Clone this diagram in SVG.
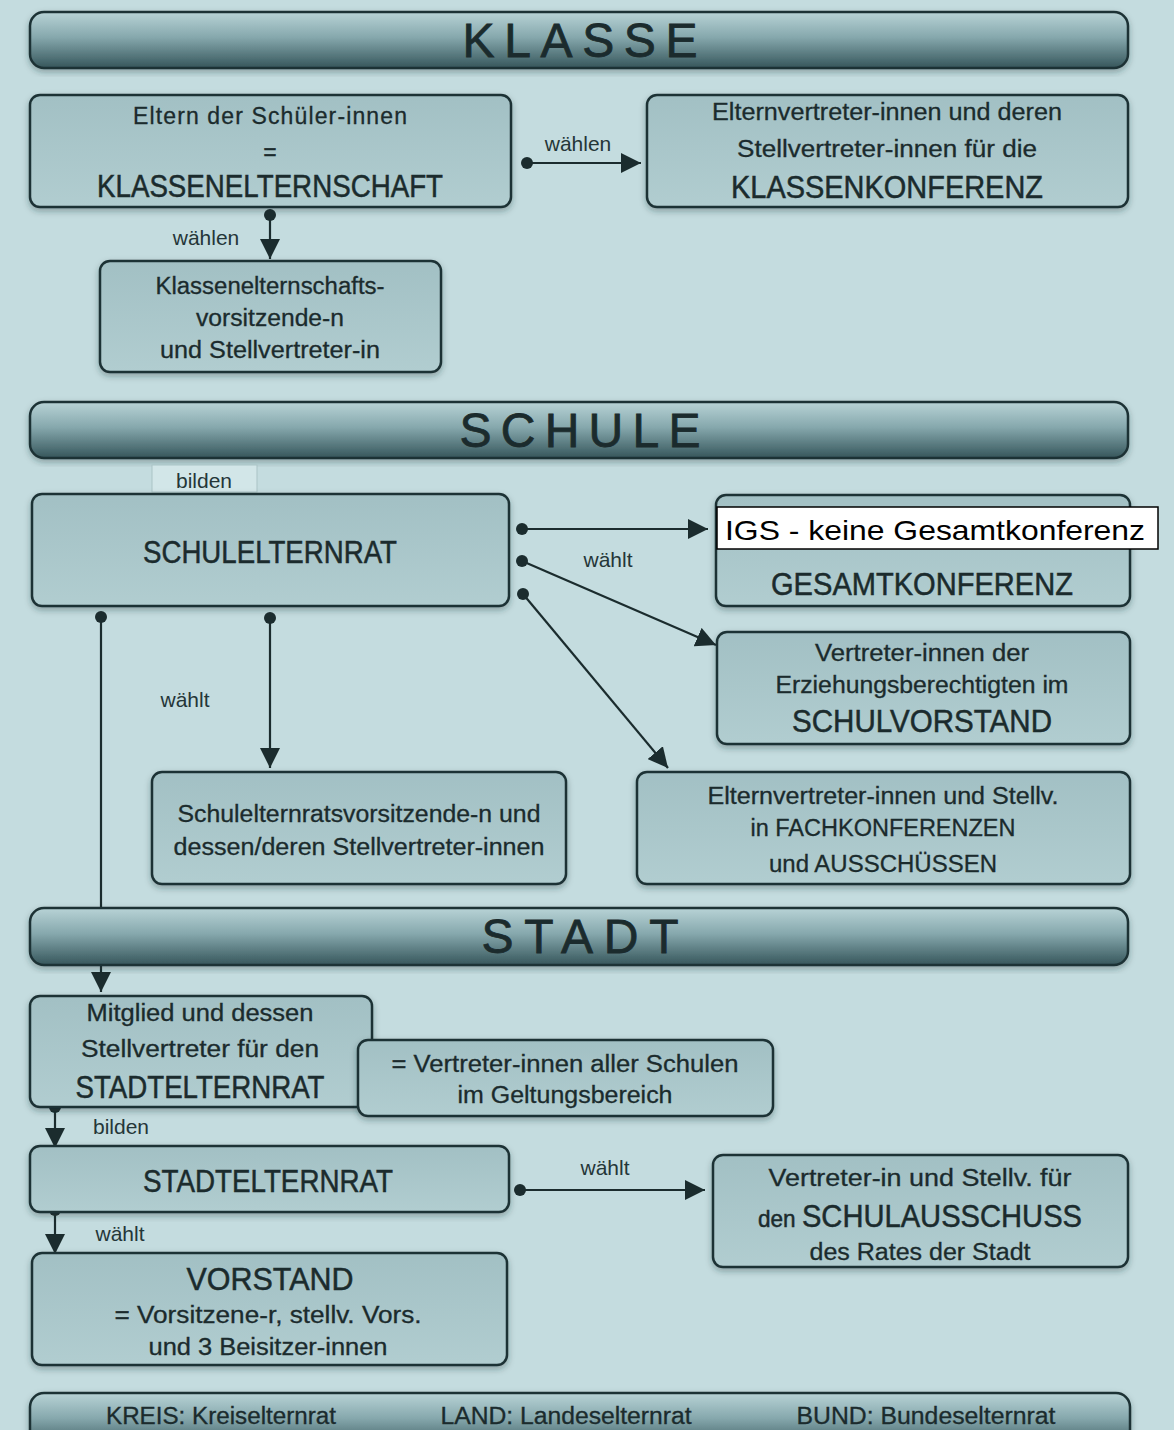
<svg xmlns="http://www.w3.org/2000/svg" width="1174" height="1430" viewBox="0 0 1174 1430">
<defs>
<linearGradient id="hdr" x1="0" y1="0" x2="0" y2="1">
<stop offset="0" stop-color="#b8d3d6"/>
<stop offset="0.45" stop-color="#86a8ad"/>
<stop offset="1" stop-color="#36565b"/>
</linearGradient>
<linearGradient id="box" x1="0" y1="0" x2="0" y2="1">
<stop offset="0" stop-color="#a2c0c4"/>
<stop offset="1" stop-color="#b1cdd0"/>
</linearGradient>
<filter id="sh" x="-5%" y="-10%" width="110%" height="125%">
<feDropShadow dx="0" dy="3" stdDeviation="3" flood-color="#1c3033" flood-opacity="0.35"/>
</filter>
<marker id="arr" viewBox="0 0 10 10" refX="10" refY="5" markerWidth="20" markerHeight="20" markerUnits="userSpaceOnUse" orient="auto">
<path d="M0,0 L10,5 L0,10 z" fill="#1b2c2e"/>
</marker>
<marker id="dot" viewBox="0 0 10 10" refX="5" refY="5" markerWidth="12" markerHeight="12" markerUnits="userSpaceOnUse">
<circle cx="5" cy="5" r="5" fill="#1b2c2e"/>
</marker>
</defs>
<style>
.bg{fill:#c4dcdf}
.hbar{fill:url(#hdr);stroke:#1e3235;stroke-width:2.5;filter:url(#sh)}
.nb{fill:url(#box);stroke:#1e3235;stroke-width:2.5;filter:url(#sh)}
text{font-family:"Liberation Sans","DejaVu Sans",sans-serif;fill:#1b2b2d;text-anchor:middle}
.ht{font-size:48px;letter-spacing:22px;stroke:#1b2b2d;stroke-width:0.8}
.t{font-size:23px;stroke:#1b2b2d;stroke-width:0.3}
.b{font-size:31px;stroke:#1b2b2d;stroke-width:0.5}
.lbl{font-size:21px;fill:#243638}
.c{stroke:#1b2c2e;stroke-width:2.2;fill:none}
.ar{marker-end:url(#arr);marker-start:url(#dot)}
.ft{font-size:23px;stroke:#1b2b2d;stroke-width:0.3}
</style>
<rect class="bg" x="0" y="0" width="1174" height="1430"/>

<g id="hdr-klasse">
<rect class="hbar" x="30" y="12" width="1098" height="56" rx="14"/>
<text class="ht" x="591" y="57" textLength="257" lengthAdjust="spacing">KLASSE</text>
</g>

<g id="n-klassenelternschaft">
<rect class="nb" x="30" y="95" width="481" height="112" rx="10"/>
<text class="t" x="270" y="124" textLength="274">Eltern der Schüler-innen</text>
<text class="t" x="270" y="160">=</text>
<text class="b" x="270" y="197" textLength="346" lengthAdjust="spacingAndGlyphs">KLASSENELTERNSCHAFT</text>
</g>

<g id="n-klassenkonferenz">
<rect class="nb" x="647" y="95" width="481" height="112" rx="10"/>
<text class="t" x="887" y="120" textLength="350" lengthAdjust="spacingAndGlyphs">Elternvertreter-innen und deren</text>
<text class="t" x="887" y="157" textLength="300" lengthAdjust="spacingAndGlyphs">Stellvertreter-innen für die</text>
<text class="b" x="887" y="198" textLength="312" lengthAdjust="spacingAndGlyphs">KLASSENKONFERENZ</text>
</g>

<g id="n-klassenvorsitz">
<rect class="nb" x="100" y="261" width="341" height="111" rx="10"/>
<text class="t" x="270" y="294" textLength="229" lengthAdjust="spacingAndGlyphs">Klassenelternschafts-</text>
<text class="t" x="270" y="326" textLength="148" lengthAdjust="spacingAndGlyphs">vorsitzende-n</text>
<text class="t" x="270" y="358" textLength="220" lengthAdjust="spacingAndGlyphs">und Stellvertreter-in</text>
</g>

<g id="hdr-schule">
<rect class="hbar" x="30" y="402" width="1098" height="56" rx="14"/>
<text class="ht" x="591" y="447" textLength="263" lengthAdjust="spacing">SCHULE</text>
</g>

<g id="n-schulelternrat">
<rect x="152" y="465" width="105" height="27" fill="#d2e6e8" stroke="#aac3c6" stroke-width="1"/>
<text class="lbl" x="204" y="488">bilden</text>
<rect class="nb" x="32" y="494" width="477" height="112" rx="10"/>
<text class="b" x="270" y="563" textLength="254" lengthAdjust="spacingAndGlyphs">SCHULELTERNRAT</text>
</g>

<g id="n-gesamtkonferenz">
<rect class="nb" x="716" y="495" width="414" height="111" rx="10"/>
<text class="b" x="922" y="595" textLength="302" lengthAdjust="spacingAndGlyphs">GESAMTKONFERENZ</text>
<rect x="717" y="507" width="441" height="42" fill="#ffffff" stroke="#000000" stroke-width="1.5"/>
<text x="935" y="540" style="font-size:28px;fill:#000" textLength="420" lengthAdjust="spacingAndGlyphs">IGS - keine Gesamtkonferenz</text>
</g>

<g id="n-schulvorstand">
<rect class="nb" x="717" y="632" width="413" height="112" rx="10"/>
<text class="t" x="922" y="661" textLength="214" lengthAdjust="spacingAndGlyphs">Vertreter-innen der</text>
<text class="t" x="922" y="693" textLength="293" lengthAdjust="spacingAndGlyphs">Erziehungsberechtigten im</text>
<text class="b" x="922" y="732" textLength="260" lengthAdjust="spacingAndGlyphs">SCHULVORSTAND</text>
</g>

<g id="n-fachkonferenzen">
<rect class="nb" x="637" y="772" width="493" height="112" rx="10"/>
<text class="t" x="883" y="804" textLength="351" lengthAdjust="spacingAndGlyphs">Elternvertreter-innen und Stellv.</text>
<text class="t" x="883" y="836" textLength="265" lengthAdjust="spacingAndGlyphs">in FACHKONFERENZEN</text>
<text class="t" x="883" y="872" textLength="228" lengthAdjust="spacingAndGlyphs">und AUSSCHÜSSEN</text>
</g>

<g id="n-schulvorsitz">
<rect class="nb" x="152" y="772" width="414" height="112" rx="10"/>
<text class="t" x="359" y="822" textLength="363" lengthAdjust="spacingAndGlyphs">Schulelternratsvorsitzende-n und</text>
<text class="t" x="359" y="855" textLength="371" lengthAdjust="spacingAndGlyphs">dessen/deren Stellvertreter-innen</text>
</g>

<g id="connectors">
<line class="c ar" x1="527" y1="163" x2="641" y2="163"/>
<text class="lbl" x="578" y="151">wählen</text>
<line class="c ar" x1="270" y1="215" x2="270" y2="259"/>
<text class="lbl" x="206" y="245">wählen</text>
<line class="c ar" x1="522" y1="529" x2="708" y2="529"/>
<line class="c ar" x1="522" y1="561" x2="716" y2="645"/>
<line class="c ar" x1="523" y1="594" x2="668" y2="768"/>
<text class="lbl" x="608" y="567">wählt</text>
<line class="c ar" x1="270" y1="618" x2="270" y2="768"/>
<text class="lbl" x="185" y="707">wählt</text>
<line class="c ar" x1="101" y1="617" x2="101" y2="992"/>
<line class="c ar" x1="55" y1="1107" x2="55" y2="1148"/>
<text class="lbl" x="121" y="1134">bilden</text>
<line class="c ar" x1="520" y1="1190" x2="705" y2="1190"/>
<text class="lbl" x="605" y="1175">wählt</text>
<line class="c ar" x1="55" y1="1210" x2="55" y2="1254"/>
<text class="lbl" x="120" y="1241">wählt</text>
</g>

<g id="hdr-stadt">
<rect class="hbar" x="30" y="908" width="1098" height="57" rx="14"/>
<text class="ht" x="591" y="953" textLength="219" lengthAdjust="spacing">STADT</text>
</g>

<g id="n-mitglied">
<rect class="nb" x="30" y="996" width="342" height="111" rx="10"/>
<text class="t" x="200" y="1021" textLength="227" lengthAdjust="spacingAndGlyphs">Mitglied und dessen</text>
<text class="t" x="200" y="1057" textLength="238" lengthAdjust="spacingAndGlyphs">Stellvertreter für den</text>
<text class="b" x="200" y="1098" textLength="249" lengthAdjust="spacingAndGlyphs">STADTELTERNRAT</text>
</g>

<g id="n-vertreter-schulen">
<rect class="nb" x="358" y="1040" width="415" height="76" rx="10"/>
<text class="t" x="565" y="1072" textLength="347" lengthAdjust="spacingAndGlyphs">= Vertreter-innen aller Schulen</text>
<text class="t" x="565" y="1103" textLength="215" lengthAdjust="spacingAndGlyphs">im Geltungsbereich</text>
</g>

<g id="n-stadtelternrat">
<rect class="nb" x="30" y="1146" width="479" height="66" rx="10"/>
<text class="b" x="268" y="1192" textLength="250" lengthAdjust="spacingAndGlyphs">STADTELTERNRAT</text>
</g>

<g id="n-schulausschuss">
<rect class="nb" x="713" y="1155" width="415" height="112" rx="10"/>
<text class="t" x="920" y="1186" textLength="303" lengthAdjust="spacingAndGlyphs">Vertreter-in und Stellv. für</text>
<text class="b" x="920" y="1227" textLength="324" lengthAdjust="spacingAndGlyphs"><tspan style="font-size:24px">den </tspan>SCHULAUSSCHUSS</text>
<text class="t" x="920" y="1260" textLength="221" lengthAdjust="spacingAndGlyphs">des Rates der Stadt</text>
</g>

<g id="n-vorstand">
<rect class="nb" x="32" y="1253" width="475" height="112" rx="10"/>
<text class="b" x="270" y="1290" textLength="167" lengthAdjust="spacingAndGlyphs">VORSTAND</text>
<text class="t" x="268" y="1323" textLength="307" lengthAdjust="spacingAndGlyphs">= Vorsitzene-r, stellv. Vors.</text>
<text class="t" x="268" y="1355" textLength="239" lengthAdjust="spacingAndGlyphs">und 3 Beisitzer-innen</text>
</g>

<g id="hdr-ebenen">
<rect class="hbar" x="30" y="1393" width="1100" height="56" rx="14"/>
<text class="ft" x="221" y="1424" textLength="230" lengthAdjust="spacingAndGlyphs">KREIS: Kreiselternrat</text>
<text class="ft" x="566" y="1424" textLength="251" lengthAdjust="spacingAndGlyphs">LAND: Landeselternrat</text>
<text class="ft" x="926" y="1424" textLength="259" lengthAdjust="spacingAndGlyphs">BUND: Bundeselternrat</text>
</g>
</svg>
